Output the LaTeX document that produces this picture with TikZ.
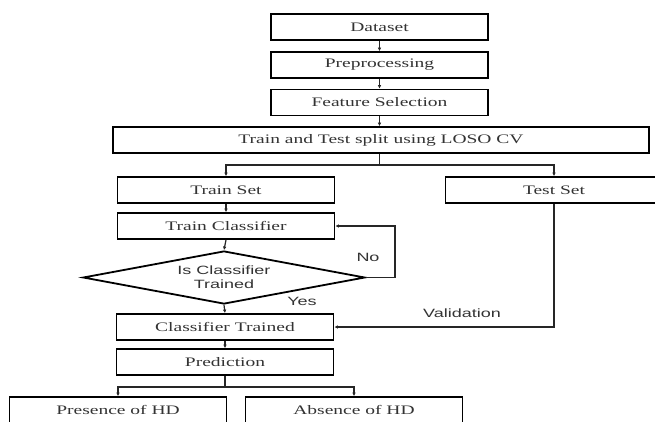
\documentclass[tikz,border=0pt]{standalone}
\usepackage{fontspec}
\setmainfont{Liberation Serif}[FakeStretch=1.5]
\newfontfamily\labfont{Liberation Sans}[FakeStretch=1.5]
\usetikzlibrary{shapes.geometric,arrows.meta}
\begin{document}
\begin{tikzpicture}[x=1bp,y=-1bp,
  box/.style={draw=black, line width=1.8bp, minimum width=217bp, minimum height=26bp, inner sep=0pt,
     font=\fontsize{13bp}{15bp}\selectfont, text=black!80},
  conn/.style={line width=1.2bp, draw=black!85},
  arr/.style={conn, -{Latex[length=3.5bp,width=3.5bp]}},
  lab/.style={font=\labfont\fontsize{12bp}{14bp}\selectfont, text=black!80, inner sep=0pt}]
\useasboundingbox (0,0) rectangle (655,421);
\clip (0,0) rectangle (655,421);
\fill[white] (0,0) rectangle (655,421);

\node[box] (data) at (379.5,27) {Dataset};
\node[box] (prep) at (379.5,65) {Preprocessing};
\node[box] (feat) at (379.5,102.5) {Feature Selection};
\node[box, minimum width=536bp] (split) at (381,140) {Train and Test split using LOSO CV};
\node[box] (trainset) at (226,190) {Train Set};
\node[box] (testset) at (554,190) {Test Set};
\node[box] (traincl) at (226,226) {Train Classifier};
\node[draw=black, line width=1.8bp, diamond, aspect=5.3, minimum width=282bp, minimum height=53bp, inner sep=0pt,
      align=center, font=\labfont\fontsize{12bp}{14bp}\selectfont, text=black!80] (dia) at (224,277.5) {Is Classifier\\Trained};
\node[box] (cltr) at (225,327) {Classifier Trained};
\node[box] (pred) at (225,362) {Prediction};
\node[box] (pres) at (118,410) {Presence of HD};
\node[box] (abs) at (354,410) {Absence of HD};

\node[lab] (no) at (368,257) {No};
\node[lab] (yes) at (302,301) {Yes};
\node[lab] (val) at (462,313) {Validation};

\draw[arr] (data.south) -- (prep.north);
\draw[arr] (prep.south) -- (feat.north);
\draw[arr] (feat.south) -- (split.north -| feat.south);
\draw[conn] (split.south -| feat.south) -- ++(0,11) coordinate (sp);
\draw[arr] (sp) -| (trainset.north);
\draw[arr] (sp) -| (testset.north);
\draw[arr] (trainset.south) -- (traincl.north);
\draw[arr] (traincl.south) -- (dia.north);
\draw[arr] (dia.east) -- ++(29,0) coordinate (lp) |- (traincl.east);
\draw[arr] (dia.south) -- (cltr.north);
\draw[arr] (testset.south) |- (cltr.east);
\draw[arr] (cltr.south) -- (pred.north);
\draw[conn] (pred.south) -- ++(0,11) coordinate (pp);
\draw[arr] (pp) -| (pres.north);
\draw[arr] (pp) -| (abs.north);
\end{tikzpicture}
\end{document}
